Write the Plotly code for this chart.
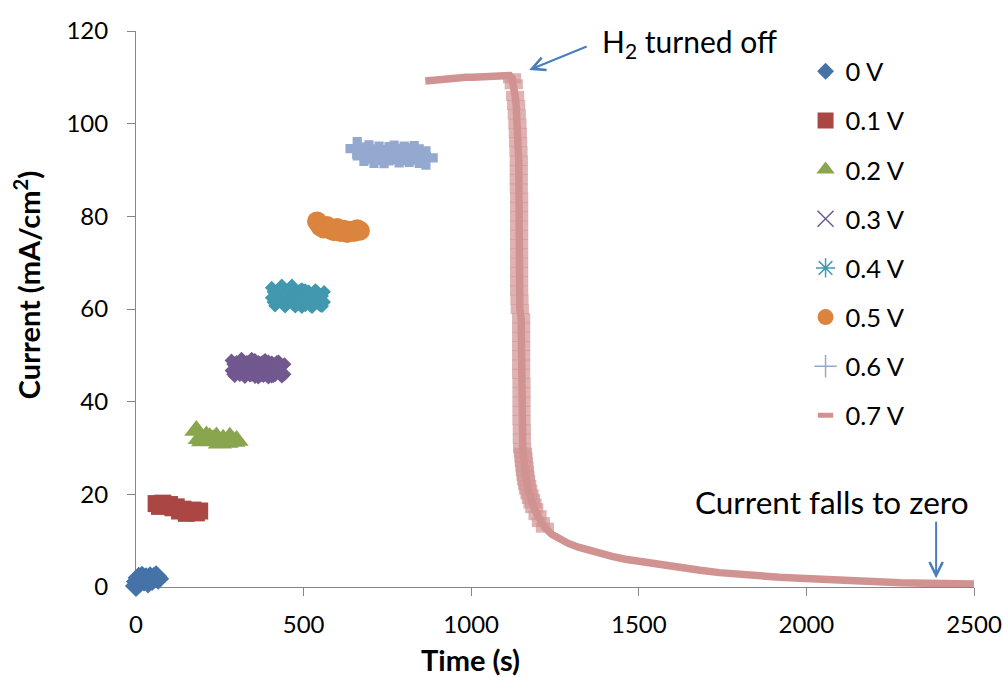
import plotly.graph_objects as go

# ---------------- data ----------------
x_ticks = [0, 500, 1000, 1500, 2000, 2500]
y_ticks = [0, 20, 40, 60, 80, 100, 120]

names = ["0 V", "0.1 V", "0.2 V", "0.3 V", "0.4 V", "0.5 V", "0.6 V", "0.7 V"]

t_0v = [0, 3, 8, 12, 18, 24, 30, 36, 42, 48, 54, 60, 66]
i_0v = [0.2, 1.2, 2.0, 1.1, 2.2, 1.4, 1.9, 1.0, 2.1, 1.5, 2.0, 2.3, 1.8]

t_01v = [60, 70, 80, 90, 100, 110, 120, 130, 140, 150, 160, 170, 180, 190]
i_01v = [18.0, 17.4, 18.1, 17.5, 17.8, 17.1, 17.3, 16.4, 16.8, 15.9, 16.2, 16.6, 16.0, 16.4]

t_02v = [180, 190, 200, 210, 220, 230, 240, 250, 260, 270, 280, 290, 300]
i_02v = [33.8, 32.0, 31.5, 32.6, 32.2, 31.8, 32.4, 31.0, 31.9, 31.2, 32.3, 31.4, 31.6]

t_03v = [300, 305, 310, 315, 320, 325, 330, 335, 340, 345, 350, 355, 360, 365, 370, 375,
         380, 385, 390, 395, 400, 405, 410, 415, 420, 428]
i_03v = [47.8, 47.0, 46.6, 47.5, 47.2, 46.8, 48.2, 47.1, 46.4, 47.3, 47.5, 46.7, 46.9, 47.6,
         47.9, 46.8, 46.3, 47.2, 47.4, 46.6, 46.8, 47.5, 47.6, 46.9, 46.5, 47.0]

t_04v = [420, 425, 430, 435, 440, 445, 450, 455, 460, 465, 470, 475, 480, 485, 490, 495,
         500, 505, 510, 515, 520, 525, 530, 535, 540, 546]
i_04v = [63.5, 62.6, 61.8, 62.4, 62.9, 63.3, 64.0, 62.8, 61.6, 62.3, 62.4, 63.0, 63.2, 62.1,
         61.9, 62.5, 62.7, 62.0, 61.5, 62.4, 63.0, 62.6, 62.2, 61.8, 61.7, 62.6]

t_05v = [540, 550, 560, 570, 580, 590, 600, 610, 620, 630, 640, 650, 660, 668]
i_05v = [78.9, 77.8, 77.4, 77.9, 77.2, 76.8, 77.5, 76.6, 77.1, 76.4, 76.9, 76.6, 77.2, 76.9]

t_06v = [660, 680, 695, 710, 725, 740, 755, 770, 785, 800, 815, 830, 845, 865]
i_06v = [94.6, 93.4, 93.9, 93.0, 93.6, 92.9, 93.5, 93.8, 93.1, 93.6, 93.2, 93.7, 93.0, 92.6]

# 0.7 V: plateau, sharp fall after H2 is turned off, then slow decay
t_07v = [863, 885, 905, 925, 945, 965, 985, 1005, 1025, 1045, 1065, 1085, 1105, 1115,
         1122, 1127, 1131, 1134, 1136, 1138, 1139, 1140, 1141, 1142, 1142, 1142, 1142,
         1143, 1143, 1143, 1143, 1143, 1143, 1143, 1143, 1143, 1143, 1143, 1144, 1145,
         1149, 1149, 1149, 1149, 1149, 1149, 1149, 1150, 1150, 1150, 1150, 1150, 1151, 1151,
         1152, 1154, 1156, 1157, 1159, 1160, 1162, 1164, 1167, 1170, 1174, 1178, 1183, 1188,
         1198, 1208, 1220, 1240, 1265, 1290, 1320,
         1350, 1385, 1420, 1460, 1500, 1534, 1580, 1630, 1683, 1740, 1800, 1860, 1920,
         1982, 2050, 2120, 2200, 2280, 2360, 2440, 2515]
i_07v = [109.2, 109.4, 109.5, 109.7, 109.8, 109.9, 110.0, 110.0, 110.1, 110.2, 110.3, 110.3, 110.4, 110.4,
         109.8, 108.5, 106, 104, 102, 100, 98, 96, 94, 92, 90, 88, 86,
         84, 82, 80, 78, 76, 74, 72, 70, 68, 66, 64, 62, 60,
         58, 56, 54, 52, 50, 48, 46, 44, 42, 40, 38, 36, 34, 32,
         30, 29, 28, 27, 26, 25, 24, 23, 22, 21, 20, 19, 18, 17,
         15.5, 14.0, 12.8, 11.4, 10.3, 9.4, 8.6,
         7.9, 7.2, 6.6, 6.0, 5.5, 5.1, 4.6, 4.1, 3.6, 3.1, 2.7, 2.4, 2.1,
         1.9, 1.6, 1.35, 1.1, 0.9, 0.8, 0.7, 0.65]

colors = ["#4572A7", "#AA4643", "#89A54E", "#71588F", "#4198AF", "#DB843D", "#93A9CF", "#D19392"]

# ---------------- layout geometry ----------------
X_RANGE = [0, 2500]
Y_RANGE = [0, 120]
MARGIN = dict(l=136, r=29, t=31, b=90)
FIG_W, FIG_H = 1003, 677
plot_w = FIG_W - MARGIN["l"] - MARGIN["r"]
plot_h = FIG_H - MARGIN["t"] - MARGIN["b"]
px_per_x = plot_w / (X_RANGE[1] - X_RANGE[0])
px_per_y = plot_h / (Y_RANGE[1] - Y_RANGE[0])

# Excel dash markers show as a wider band where the curve is steep
pink_sizes = []
for k in range(len(t_07v)):
    j = k - 1 if k > 0 else k + 1
    dxp = abs(t_07v[k] - t_07v[j]) * px_per_x
    dyp = abs(i_07v[k] - i_07v[j]) * px_per_y
    pink_sizes.append(13 if dyp >= dxp else 0)

# ---------------- figure ----------------
fig = go.Figure()

series = [
    # x, y, plot symbol, plot size, outline width, legend symbol, legend size
    (t_0v, i_0v, "diamond", 17, 0, "diamond", 13),
    (t_01v, i_01v, "square", 17, 0, "square", 16),
    (t_02v, i_02v, "triangle-up", 21, 0, "triangle-up", 16),
    (t_03v, i_03v, "x", 18, 2.5, "x-thin", 16),
    (t_04v, i_04v, "x", 18, 2.5, "asterisk", 16),
    (t_05v, i_05v, "circle", 20, 0, "circle", 16),
    (t_06v, i_06v, "cross", 18, 2, "cross-thin", 16),
]

for k, (tx, iy, sym, size, olw, lsym, lsize) in enumerate(series):
    c = colors[k]
    fig.add_trace(go.Scatter(x=tx, y=iy, mode="markers", name=names[k],
                             legendgroup=names[k], showlegend=False, cliponaxis=False,
                             marker=dict(symbol=sym, size=size, color=c,
                                         line=dict(width=olw, color=c))))
    thin = lsym in ("x-thin", "asterisk", "cross-thin")
    fig.add_trace(go.Scatter(x=[None], y=[None], mode="markers", name=names[k],
                             legendgroup=names[k], showlegend=True,
                             marker=dict(symbol=lsym, size=lsize, color=c,
                                         line=dict(width=1.5 if thin else 0, color=c))))

fig.add_trace(go.Scatter(x=t_07v, y=i_07v, mode="lines+markers", name=names[7],
                         legendgroup=names[7], showlegend=False, cliponaxis=False,
                         line=dict(color=colors[7], width=7.5),
                         marker=dict(symbol="line-ew", size=pink_sizes, color=colors[7],
                                     line=dict(width=10, color=colors[7]))))
fig.add_trace(go.Scatter(x=[None], y=[None], mode="markers", name=names[7],
                         legendgroup=names[7], showlegend=True,
                         marker=dict(symbol="line-ew", size=11, color=colors[7],
                                     line=dict(width=5, color=colors[7]))))

axis_col = "#868686"
fig.update_xaxes(range=X_RANGE, tickvals=x_ticks, ticktext=[str(v) for v in x_ticks],
                 showline=True, linecolor=axis_col, linewidth=1, ticks="outside",
                 ticklen=8, tickcolor=axis_col, showgrid=False, zeroline=False,
                 layer="below traces", tickfont=dict(size=24, color="black"),
                 ticklabelstandoff=8)
fig.update_yaxes(range=Y_RANGE, tickvals=y_ticks, ticktext=[str(v) for v in y_ticks],
                 showline=True, linecolor=axis_col, linewidth=1, ticks="outside",
                 ticklen=8, tickcolor=axis_col, showgrid=False, zeroline=False,
                 layer="below traces", tickfont=dict(size=24, color="black"),
                 ticklabelstandoff=14)

arrow_col = "#4A7EBB"
fig.update_layout(
    width=FIG_W, height=FIG_H,
    margin=dict(**MARGIN, autoexpand=False),
    paper_bgcolor="white", plot_bgcolor="white",
    font=dict(family="Lato", size=24, color="black"),
    legend=dict(x=0.799, y=0.969, xanchor="left", yanchor="top", tracegroupgap=13,
                traceorder="grouped", font=dict(size=25.5, color="black"),
                bgcolor="rgba(0,0,0,0)", itemwidth=30),
    annotations=[
        dict(text="<b>Current (mA/cm<sup>2</sup>)</b>", xref="paper", yref="paper",
             x=-0.130, y=0.543, xanchor="center", yanchor="middle", textangle=-90,
             showarrow=False, font=dict(size=29)),
        dict(text="<b>Time (s)</b>", xref="paper", yref="paper",
             x=0.399, y=-0.131, xanchor="center", yanchor="middle",
             showarrow=False, font=dict(size=29)),
        dict(text="H<sub>2</sub> turned off", xref="paper", yref="paper",
             x=0.661, y=0.978, xanchor="center", yanchor="middle",
             showarrow=False, font=dict(size=30)),
        dict(text="", xref="x", yref="y", x=1173, y=111.6, ax=59, ay=-24,
             showarrow=True, arrowhead=5, arrowsize=1.3, arrowwidth=2, arrowcolor=arrow_col),
        dict(text="Current falls to zero", xref="paper", yref="paper",
             x=0.8305, y=0.153, xanchor="center", yanchor="middle",
             showarrow=False, font=dict(size=31.5)),
        dict(text="", xref="x", yref="y", x=2387, y=1.9, ax=0, ay=-58,
             showarrow=True, arrowhead=5, arrowsize=1.3, arrowwidth=2, arrowcolor=arrow_col),
    ],
)

fig.write_html("out.html", config={"displayModeBar": False},
               post_script="document.body.style.margin='0';document.body.style.overflow='hidden';")
